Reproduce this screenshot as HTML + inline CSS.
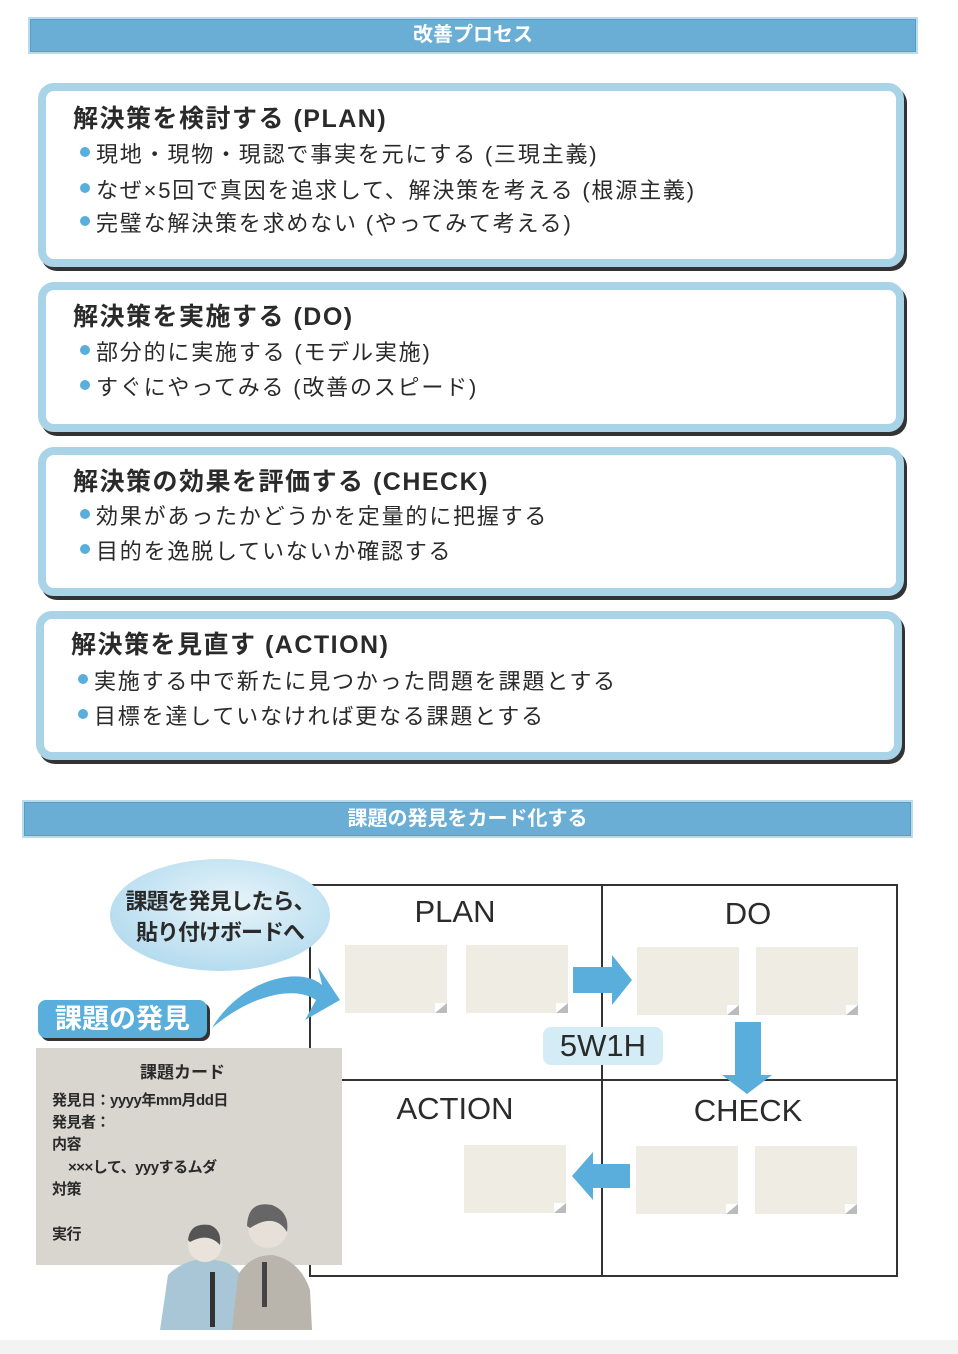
<!DOCTYPE html>
<html><head><meta charset="utf-8">
<style>
*{margin:0;padding:0;box-sizing:border-box}
body{width:958px;height:1354px;background:#fff;position:relative;overflow:hidden;font-family:"Liberation Sans","Noto Sans CJK JP",sans-serif;color:#2a2a2a}
.a{position:absolute}
.hdr{position:absolute;background:#6aaed6;border:2px solid #b9dbee;color:#fff;font-weight:bold;font-size:20px;text-align:center;box-shadow:inset 0 0 0 1px #5a9cc6}
.box{position:absolute;left:38px;width:866px;border:8px solid #a9d3e6;border-radius:16px;background:#fff;box-shadow:3px 4px 0 #333}
.t{position:absolute;left:27px;font-size:25px;font-weight:bold;white-space:nowrap;letter-spacing:1.5px}
.b{position:absolute;left:50px;font-size:22px;white-space:nowrap;letter-spacing:1.8px}
.b:before{content:"";position:absolute;left:-16px;top:10px;width:10px;height:10px;border-radius:50%;background:#5aaedb}
.note{position:absolute;background:#efede3;width:102px;height:68px}
.note:after{content:"";position:absolute;right:0;bottom:0;border-style:solid;border-width:0 0 10px 12px;border-color:transparent transparent #bbb #fff}
.lab{position:absolute;font-size:31px;transform:translateX(-50%);white-space:nowrap;color:#2b2b2b}
.cl{position:absolute;left:52px;font-size:15px;font-weight:bold;white-space:nowrap;letter-spacing:-0.5px}
</style></head><body>
<div class="hdr" style="left:28px;top:17px;width:890px;height:37px;line-height:33px">改善プロセス</div>

<div class="box" style="top:83px;height:184px">
<div class="t" style="top:8px">解決策を検討する (PLAN)</div>
<div class="b" style="top:46px">現地・現物・現認で事実を元にする (三現主義)</div>
<div class="b" style="top:82px">なぜ×5回で真因を追求して、解決策を考える (根源主義)</div>
<div class="b" style="top:115px">完璧な解決策を求めない (やってみて考える)</div>
</div>
<div class="box" style="top:282px;height:150px">
<div class="t" style="top:7px">解決策を実施する (DO)</div>
<div class="b" style="top:45px">部分的に実施する (モデル実施)</div>
<div class="b" style="top:80px">すぐにやってみる (改善のスピード)</div>
</div>
<div class="box" style="top:447px;height:149px">
<div class="t" style="top:7px">解決策の効果を評価する (CHECK)</div>
<div class="b" style="top:44px">効果があったかどうかを定量的に把握する</div>
<div class="b" style="top:79px">目的を逸脱していないか確認する</div>
</div>
<div class="box" style="top:611px;height:149px;left:36px">
<div class="t" style="top:6px">解決策を見直す (ACTION)</div>
<div class="b" style="top:45px">実施する中で新たに見つかった問題を課題とする</div>
<div class="b" style="top:80px">目標を達していなければ更なる課題とする</div>
</div>

<div class="hdr" style="left:22px;top:800px;width:891px;height:38px;line-height:34px">課題の発見をカード化する</div>

<div class="a" style="left:309px;top:884px;width:589px;height:393px;border:2px solid #333"></div>
<div class="a" style="left:601px;top:884px;width:2px;height:393px;background:#333"></div>
<div class="a" style="left:309px;top:1079px;width:589px;height:2px;background:#333"></div>

<div class="lab" style="left:455px;top:894px">PLAN</div>
<div class="lab" style="left:748px;top:896px">DO</div>
<div class="lab" style="left:455px;top:1091px">ACTION</div>
<div class="lab" style="left:748px;top:1093px">CHECK</div>

<div class="note" style="left:345px;top:945px"></div>
<div class="note" style="left:466px;top:945px"></div>
<div class="note" style="left:637px;top:947px"></div>
<div class="note" style="left:756px;top:947px"></div>
<div class="note" style="left:464px;top:1145px"></div>
<div class="note" style="left:636px;top:1146px"></div>
<div class="note" style="left:755px;top:1146px"></div>

<svg class="a" style="left:0;top:0" width="958" height="1354">
<polygon fill="#5aaedb" points="573,967 612,967 612,955 632,980 612,1005 612,993 573,993"/>
<polygon fill="#5aaedb" points="735,1022 761,1022 761,1075 772,1075 747,1094 722,1075 735,1075"/>
<polygon fill="#5aaedb" points="630,1164 593,1164 593,1152 572,1176 593,1200 593,1188 630,1188"/>
<defs><radialGradient id="g" cx="0.55" cy="0.4" r="0.6"><stop offset="0" stop-color="#e8f4fa"/><stop offset="1" stop-color="#b5dcef"/></radialGradient></defs>
<ellipse cx="220" cy="915" rx="110" ry="56" fill="url(#g)"/>
<path d="M212,1028 C240,980 300,965 322,985 L318,967 L340,1000 L305,1020 L316,1000 C295,985 250,995 212,1028Z" fill="#5aaedb"/>
</svg>
<div class="a" style="left:543px;top:1027px;width:120px;height:38px;background:#d3ecf6;border-radius:8px;font-size:31px;text-align:center;line-height:38px">5W1H</div>

<div class="a" style="left:110px;top:886px;width:220px;text-align:center;font-size:22px;font-weight:bold;line-height:31px;letter-spacing:-1px">課題を発見したら、<br>貼り付けボードへ</div>

<div class="a" style="left:38px;top:1000px;width:169px;height:38px;background:#5aaedb;border-radius:8px;box-shadow:3px 3px 0 #333;color:#fff;font-size:27px;font-weight:bold;text-align:center;line-height:38px">課題の発見</div>

<div class="a" style="left:36px;top:1048px;width:306px;height:217px;background:#d8d6cf"></div>
<div class="a" style="left:140px;top:1058px;font-size:17px;font-weight:bold">課題カード</div>
<div class="cl" style="top:1089px">発見日：yyyy年mm月dd日</div>
<div class="cl" style="top:1111px">発見者：</div>
<div class="cl" style="top:1133px">内容</div>
<div class="cl" style="top:1156px;left:68px">×××して、yyyするムダ</div>
<div class="cl" style="top:1178px">対策</div>
<div class="cl" style="top:1223px">実行</div>

<svg class="a" style="left:0;top:0" width="958" height="1354">
<path d="M160,1330 L168,1275 Q180,1262 205,1258 L225,1262 Q245,1270 250,1300 L252,1330Z" fill="#a9c6d6"/>
<circle cx="205" cy="1245" r="17" fill="#e9e3db"/>
<path d="M188,1240 Q190,1222 210,1225 Q222,1230 220,1245 Q208,1232 190,1242Z" fill="#555"/>
<path d="M232,1330 L238,1275 Q250,1255 272,1255 Q300,1260 310,1290 L312,1330Z" fill="#b9b5ad"/>
<circle cx="268" cy="1228" r="20" fill="#e6e0d8"/>
<path d="M247,1226 Q248,1200 272,1205 Q290,1212 287,1232 Q275,1212 250,1228Z" fill="#666"/>
<rect x="210" y="1272" width="5" height="55" fill="#333"/>
<rect x="262" y="1262" width="5" height="45" fill="#444"/>
</svg>
<div class="a" style="left:0;top:1340px;width:958px;height:14px;background:#f3f3f3"></div>
</body></html>
